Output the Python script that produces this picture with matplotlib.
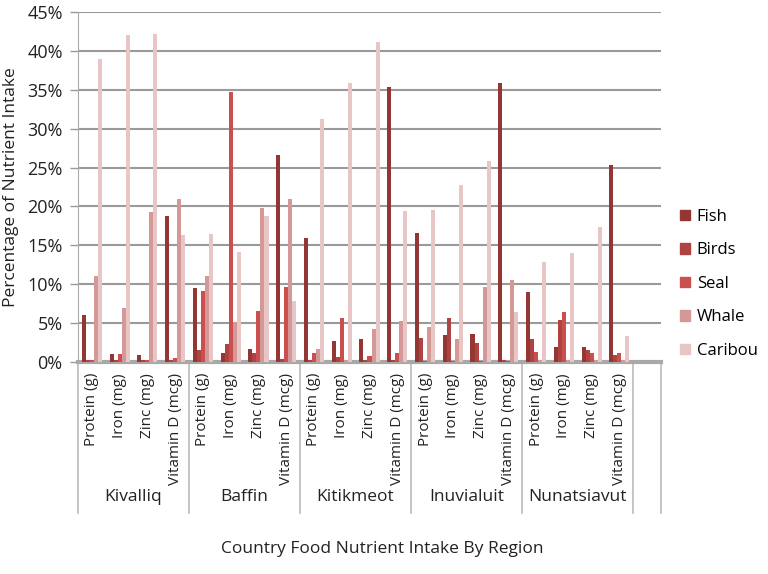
import numpy as np
import matplotlib
matplotlib.use('Agg')
import matplotlib.pyplot as plt
from matplotlib.patches import Patch
import matplotlib.transforms as mtransforms

plt.rcParams['font.family'] = ['Open Sans', 'DejaVu Sans']

# data (percent of nutrient intake)
regions = ['Kivalliq', 'Baffin', 'Kitikmeot', 'Inuvialuit', 'Nunatsiavut']
nutrients = ['Protein (g)', 'Iron (mg)', 'Zinc (mg)', 'Vitamin D (mcg)']
series = ['Fish', 'Birds', 'Seal', 'Whale', 'Caribou']

fish = [6.0, 1.0, 0.9, 18.8, 9.5, 1.2, 1.7, 26.6, 16.0, 2.7, 2.9, 35.3,
        16.6, 3.5, 3.6, 35.9, 9.0, 1.9, 1.9, 25.3]
birds = [0.3, 0.2, 0.3, 0.3, 1.6, 2.3, 1.1, 0.4, 0.3, 0.6, 0.2, 0.2,
         3.1, 5.7, 2.5, 0.3, 2.9, 5.4, 1.5, 0.9]
seal = [0.3, 1.0, 0.3, 0.5, 9.1, 34.7, 6.5, 9.6, 1.1, 5.7, 0.8, 1.2,
        0.1, 0.1, 0.1, 0.1, 1.3, 6.4, 1.1, 1.2]
whale = [11.0, 7.0, 19.3, 21.0, 11.1, 5.1, 19.8, 20.9, 1.7, 0.2, 4.2, 5.3,
         4.5, 3.0, 9.6, 10.5, 0.2, 0.2, 0.2, 0.2]
caribou = [39.0, 42.1, 42.2, 16.3, 16.4, 14.2, 18.8, 7.8, 31.3, 35.9, 41.1, 19.4,
           19.6, 22.8, 25.8, 6.4, 12.9, 14.0, 17.4, 3.4]

colors = ['#943634', '#AE4341', '#C9504F', '#D49896', '#E8C6C6']
values = [fish, birds, seal, whale, caribou]

labels = nutrients * len(regions)
x = np.arange(len(labels))
w = 0.145

fig = plt.figure(figsize=(7.68, 5.74), dpi=100)
ax = fig.add_axes([78 / 768, 1 - 362 / 574, 583 / 768, 350 / 574])

for k, (name, vals, c) in enumerate(zip(series, values, colors)):
    ax.bar(x + (k - 2) * w, vals, width=w, color=c, label=name, zorder=3)

ax.set_xlim(-0.5, len(labels) + 0.5)
ax.set_ylim(0, 45)
ax.set_yticks(np.arange(0, 46, 5))
ax.set_yticklabels([f'{v}%' for v in range(0, 46, 5)], fontsize=13, color='#222222')
ax.yaxis.grid(True, color='#9a9a9a', linewidth=1.5, zorder=0)
ax.set_axisbelow(True)
ax.tick_params(axis='y', length=6, width=1, color='#999999', pad=5)

for s in ['top', 'right']:
    ax.spines[s].set_visible(False)
ax.spines['left'].set_color('#aaaaaa')
ax.spines['bottom'].set_color('#a8a8a8')
ax.spines['bottom'].set_linewidth(3)

ax.set_xticks(x)
ax.set_xticklabels(labels, rotation=90, fontsize=11, color='#222222')
ax.tick_params(axis='x', length=0, pad=8)

# region separators and names below the axis
trans = mtransforms.blended_transform_factory(ax.transData, ax.transAxes)
bounds = np.arange(0, len(regions) + 2) * len(nutrients) - 0.5
bounds[-1] = len(labels) + 0.5
for b in bounds:
    ax.plot([b, b], [0, -0.43], transform=trans, color='#bbbbbb', lw=1.2, clip_on=False)
for i, r in enumerate(regions):
    ax.text(i * len(nutrients) + 1.5, -0.385, r, transform=trans, ha='center', va='center',
            fontsize=12.5, color='#222222')

ax.set_ylabel('Percentage of Nutrient Intake', fontsize=12.5, color='#222222', labelpad=6)
fig.text(382 / 768, 1 - 549 / 574, 'Country Food Nutrient Intake By Region',
         ha='center', va='center', fontsize=12.5, color='#222222')

handles = [Patch(color=c, label=n) for n, c in zip(series, colors)]
fig.legend(handles=handles, loc='center left', bbox_to_anchor=(670 / 768, 1 - 284 / 574),
           frameon=False, fontsize=12, handlelength=0.6, handleheight=0.6,
           handletextpad=0.4, labelspacing=1.05, borderaxespad=0.2)

fig.savefig('out.png', dpi=100)
